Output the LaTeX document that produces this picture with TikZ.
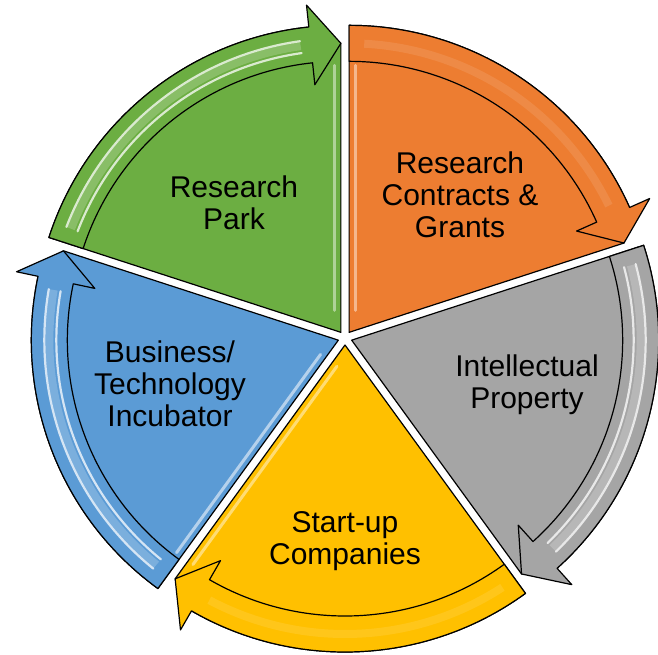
\documentclass[tikz,border=0pt]{standalone}
\usepackage{fontspec}
\setmainfont{Liberation Sans}
\usetikzlibrary{calc}
\definecolor{cOrange}{HTML}{ED7D31}
\definecolor{cGray}{HTML}{A5A5A5}
\definecolor{cYellow}{HTML}{FFC000}
\definecolor{cBlue}{HTML}{5B9BD5}
\definecolor{cGreen}{HTML}{6CAE42}
\begin{document}
\begin{tikzpicture}[x=1pt,y=1pt,
  outline/.style={draw=black, line width=1.2pt, line join=round},
  lbl/.style={align=center, font=\fontsize{30}{32}\selectfont, text=black, inner sep=0pt}]
\useasboundingbox (0,0) rectangle (658,654);
\def\R{307}\def\r{271}
\pgfmathsetmacro\Rm{(\R+\r)/2}
\pgfmathsetmacro\Ro{\R+22}
\pgfmathsetmacro\Ri{\r-22}
\begin{scope}[shift={(345,316)}]
% wedges
\foreach \a/\c/\ha/\hp/\ho/\so/\go in {90/cOrange/90/0/0.45/0/0.1, 18/cGray/18/-72/0/0.75/0.2, -54/cYellow/-126/-36/0.45/0/0.1, -126/cBlue/-126/-216/0.55/0.75/0.2, 162/cGreen/90/180/0.45/0.75/0.2}{
  \pgfmathsetmacro\b{\a-72}
  \pgfmathsetmacro\bh{\a-66}
  \pgfmathsetmacro\m{\a-36}
  \begin{scope}[shift={(\m:7)}]
    \fill[\c] (0,0) -- (\a:\R) arc[start angle=\a, end angle=\bh, radius=\R] -- (\b:\Rm) -- cycle;
    \draw[outline] (0,0) -- (\a:\R) arc[start angle=\a, end angle=\bh, radius=\R] -- (\b:\Rm) -- cycle;
    % edge highlight
    \draw[white, opacity=\ho, line width=3pt, line cap=round]
      ($(\ha:22)+(\hp:6)$) -- ($(\ha:\r-4)+(\hp:6)$);
    % arrow band
    \fill[\c] (\a:\r) -- (\a:\R) arc[start angle=\a, end angle=\bh, radius=\R]
      -- (\bh:\Ro) -- (\b:\Rm) -- (\bh:\Ri) -- (\bh:\r)
      arc[start angle=\bh, end angle=\a, radius=\r] -- cycle;
    % glossy stripes
    \pgfmathsetmacro\sa{\r+11}
    \pgfmathsetmacro\sb{\r+23}
    \pgfmathsetmacro\se{\bh+2}
    \pgfmathsetmacro\ss{\a-3}
    \draw[white, opacity=\so, line width=2.2pt, line cap=round]
      (\ss:\sa) arc[start angle=\ss, end angle=\se, radius=\sa];
    \draw[white, opacity=\so, line width=2.2pt, line cap=round]
      (\ss:\sb) arc[start angle=\ss, end angle=\se, radius=\sb];
    \draw[white, opacity=\go, line width=8pt]
      (\ss:\Rm) arc[start angle=\ss, end angle=\se, radius=\Rm];
    \draw[outline] (\a:\r) -- (\a:\R) arc[start angle=\a, end angle=\bh, radius=\R]
      -- (\bh:\Ro) -- (\b:\Rm) -- (\bh:\Ri) -- (\bh:\r)
      arc[start angle=\bh, end angle=\a, radius=\r] -- cycle;
  \end{scope}
}
\end{scope}
% labels
\node[lbl] (park) at (234,451) {Research\\Park};
\node[lbl] (contracts) at (460,459) {Research\\Contracts \&\\Grants};
\node[lbl] (ip) at (527,269) {Intellectual\\Property};
\node[lbl] (incub) at (170,270) {Business/\\Technology\\Incubator};
\node[lbl] (startup) at (345,113) {Start-up\\Companies};
\end{tikzpicture}
\end{document}
